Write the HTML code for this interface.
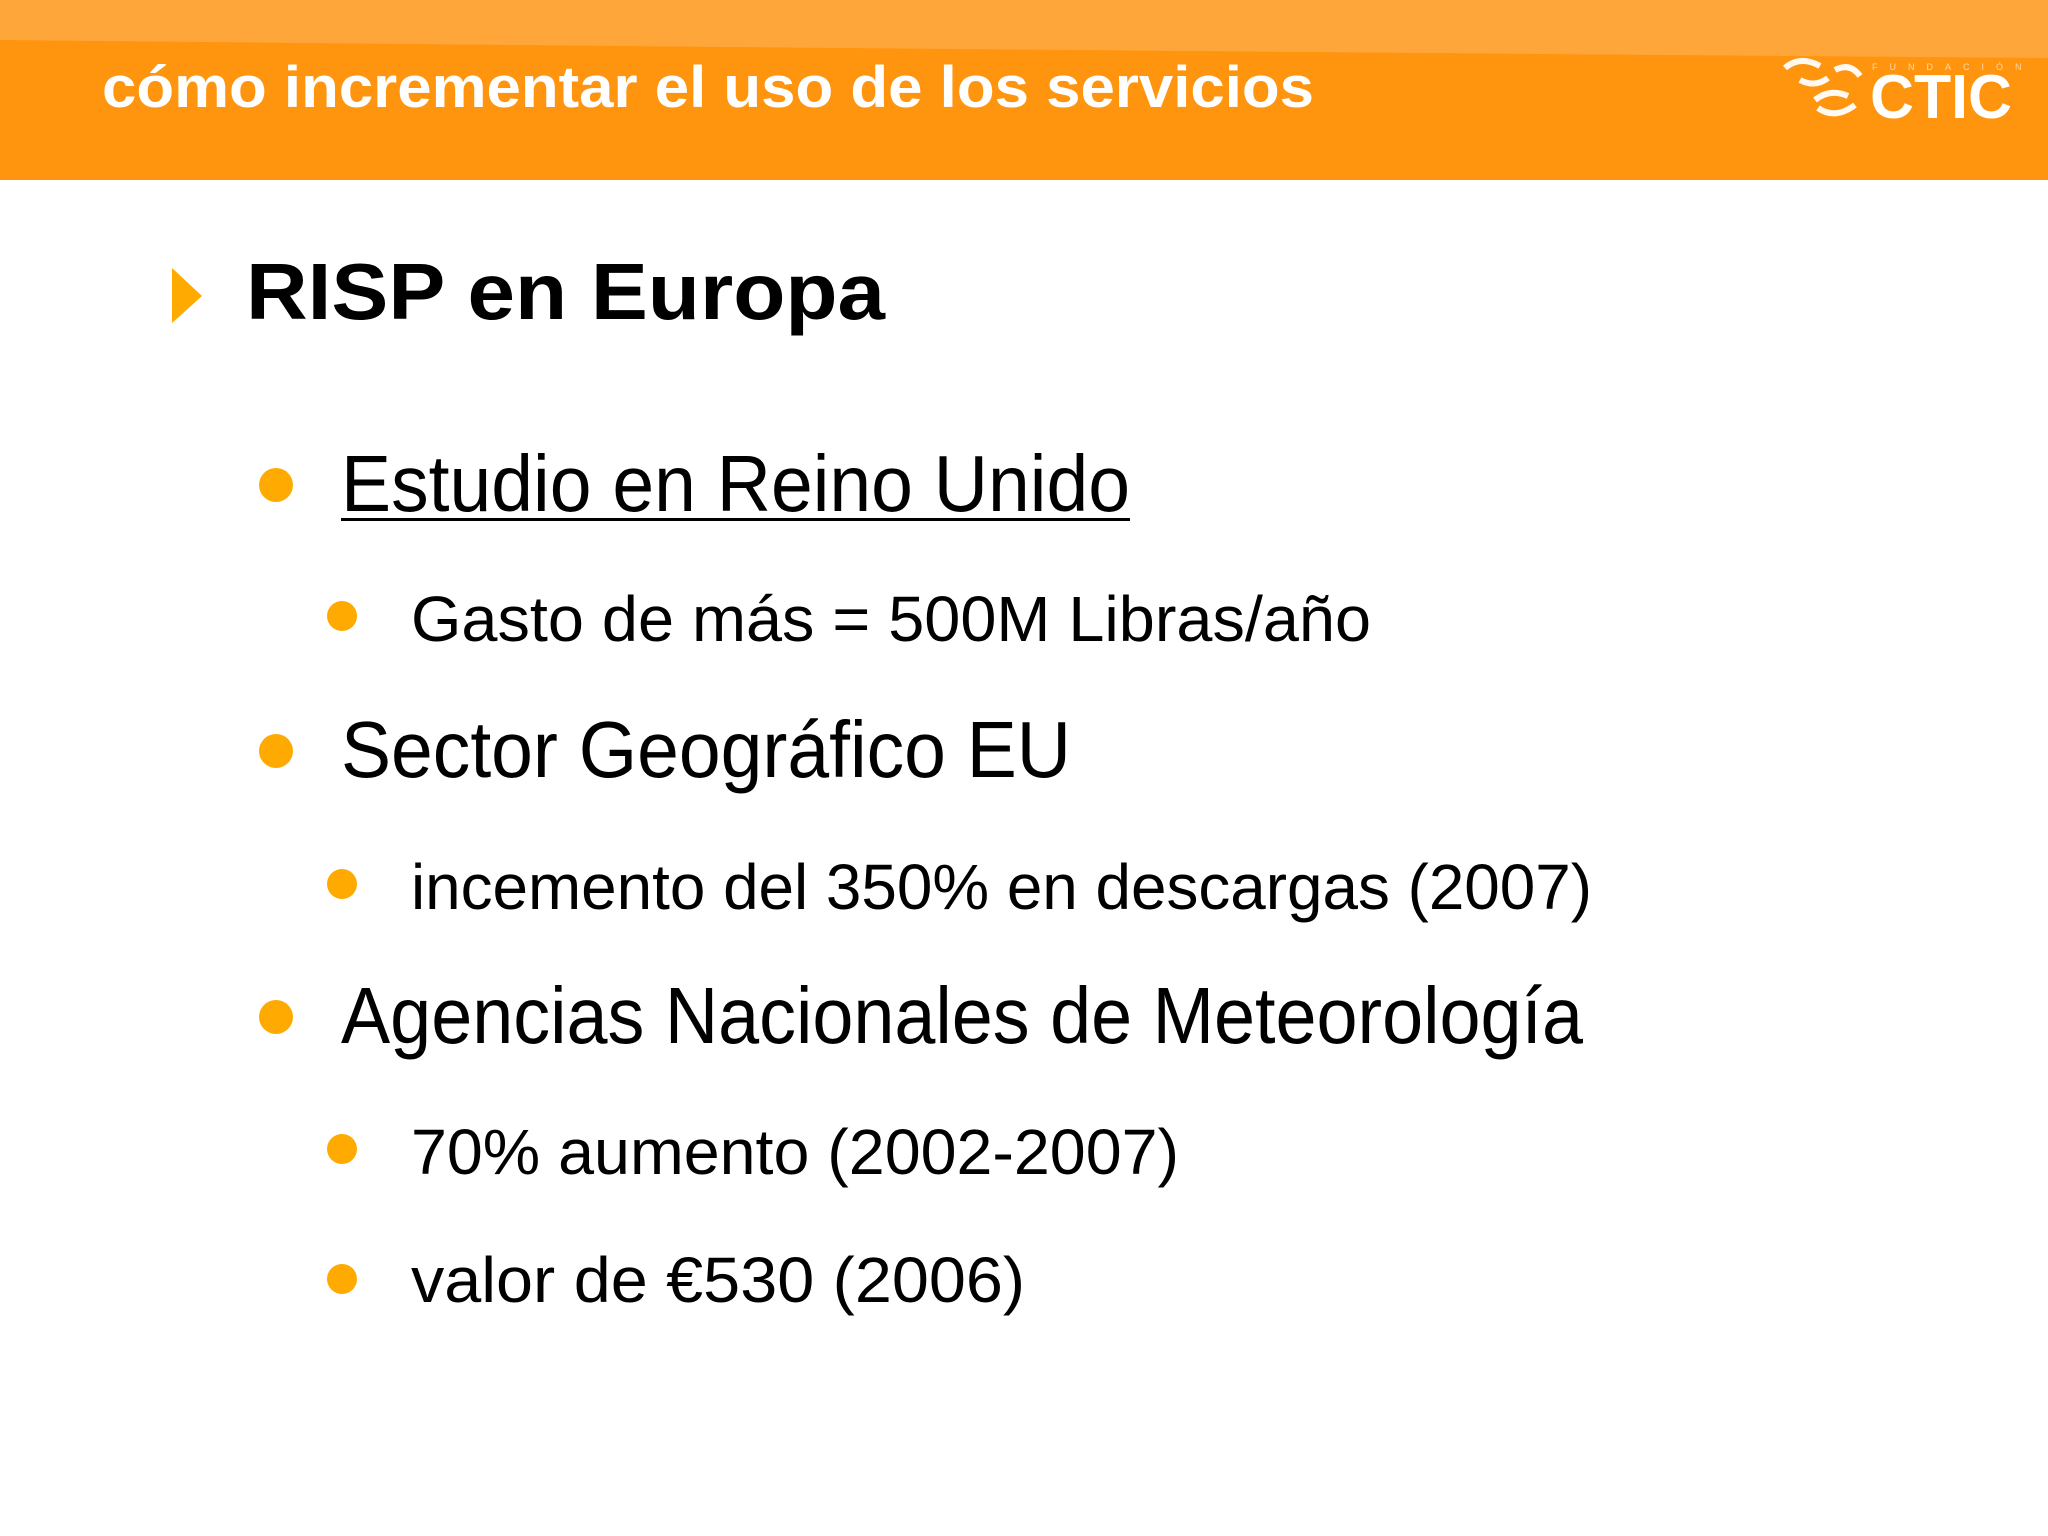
<!DOCTYPE html>
<html><head><meta charset="utf-8"><style>
html,body{margin:0;padding:0;background:#fff;}
svg{display:block;}
text{font-family:"Liberation Sans",sans-serif;}
</style></head><body>
<svg width="2048" height="1536" viewBox="0 0 2048 1536">
<defs>
<linearGradient id="hl" x1="0" y1="0" x2="1" y2="0">
<stop offset="0" stop-color="#ffa63a"/><stop offset="1" stop-color="#ffa63a"/>
</linearGradient>
</defs>
<rect x="0" y="0" width="2048" height="180" fill="#ff940e"/>
<path d="M0 0 H2048 V58 Q1000 50 0 40 Z" fill="url(#hl)"/>
<text x="102" y="107" font-size="58" font-weight="bold" fill="#fff" textLength="1212" lengthAdjust="spacingAndGlyphs">cómo incrementar el uso de los servicios</text>
<g fill="none" stroke="#fff" stroke-width="6" opacity="0.95">
<path d="M1785 68 Q1800 55 1820 66"/><path d="M1800 80 Q1815 88 1828 78"/>
<path d="M1835 70 Q1850 62 1860 76"/><path d="M1815 100 Q1830 88 1848 96"/><path d="M1818 108 Q1835 120 1855 105"/>
</g>
<text x="1872" y="70" font-size="9" fill="#ffd9a8" letter-spacing="12">FUNDACIÓN</text>
<text x="1870" y="118" font-size="62" font-weight="bold" fill="#fff" textLength="142" lengthAdjust="spacingAndGlyphs">CTIC</text>

<polygon points="172,268 202,296 172,323" fill="#ffaa00"/>
<text x="246" y="319" font-size="80" font-weight="bold" fill="#000" textLength="639" lengthAdjust="spacingAndGlyphs">RISP en Europa</text>

<g fill="#ffaa00">
<circle cx="276" cy="485" r="17"/><circle cx="342" cy="616" r="15"/>
<circle cx="276" cy="751" r="17"/><circle cx="342" cy="884" r="15"/>
<circle cx="276" cy="1017" r="17"/><circle cx="342" cy="1149" r="15"/><circle cx="342" cy="1279" r="15"/>
</g>
<g fill="#000">
<text x="341" y="511" font-size="80" textLength="789" lengthAdjust="spacingAndGlyphs">Estudio en Reino Unido</text>
<rect x="341" y="518" width="789" height="3"/>
<text x="411" y="641" font-size="64" textLength="960" lengthAdjust="spacingAndGlyphs">Gasto de más = 500M Libras/año</text>
<text x="341" y="777" font-size="80" textLength="730" lengthAdjust="spacingAndGlyphs">Sector Geográfico EU</text>
<text x="411" y="909" font-size="64" textLength="1181" lengthAdjust="spacingAndGlyphs">incemento del 350% en descargas (2007)</text>
<text x="341" y="1043" font-size="80" textLength="1242" lengthAdjust="spacingAndGlyphs">Agencias Nacionales de Meteorología</text>
<text x="411" y="1174" font-size="64" textLength="768" lengthAdjust="spacingAndGlyphs">70% aumento (2002-2007)</text>
<text x="411" y="1302" font-size="64" textLength="614" lengthAdjust="spacingAndGlyphs">valor de €530 (2006)</text>
</g>
</svg>
</body></html>
